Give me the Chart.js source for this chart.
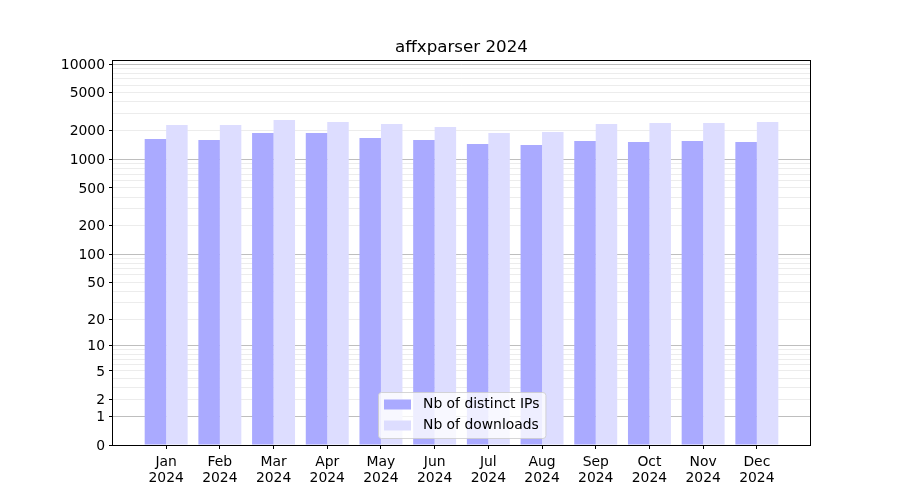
<!DOCTYPE html>
<html>
<head>
<meta charset="utf-8">
<script src="https://cdn.jsdelivr.net/npm/chart.js@4"></script>
<style>
html,body{margin:0;padding:0;background:#fff;}
#wrap{width:900px;height:500px;position:relative;}
</style>
</head>
<body>
<div id="wrap"><canvas id="c" width="900" height="500"></canvas></div>
<script>
const titleText = 'affxparser 2024';
const months = ['Jan','Feb','Mar','Apr','May','Jun','Jul','Aug','Sep','Oct','Nov','Dec'];
const yearLabel = '2024';
const distinctIPs = [1635, 1596, 1891, 1891, 1675, 1596, 1449, 1415, 1558, 1521, 1558, 1521];
const downloads   = [2294, 2294, 2589, 2467, 2350, 2186, 1891, 1937, 2350, 2407, 2407, 2467];
const seriesNames = ['Nb of distinct IPs', 'Nb of downloads'];
const seriesColors = ['#aaaaff', '#ddddff'];
const yTickLabels = [0, 1, 2, 5, 10, 20, 50, 100, 200, 500, 1000, 2000, 5000, 10000];
const yMajorGrid = [1, 10, 100, 1000, 10000];
const yMinorMultipliers = [2, 3, 4, 5, 6, 7, 8, 9];
const yMinorDecades = [1, 10, 100, 1000];

const tf = v => Math.log10(1 + v);

const tickSet = new Map();
yMinorDecades.forEach(d => yMinorMultipliers.forEach(m => tickSet.set(m * d, {v: m * d, label: '', kind: 'minor'})));
yMajorGrid.forEach(v => tickSet.set(v, {v, label: '', kind: 'major'}));
yTickLabels.forEach(v => {
  const t = tickSet.get(v) || {v, kind: v === 0 ? 'zero' : 'minor'};
  t.label = String(v);
  tickSet.set(v, t);
});
const tickInfo = Array.from(tickSet.values()).sort((a, b) => a.v - b.v);

const FONT = 'DejaVu Sans';

const framePlugin = {
  id: 'frameAndLegend',
  afterDraw(chart) {
    const {ctx, chartArea: a} = chart;
    ctx.save();
    ctx.fillStyle = '#000';
    ctx.font = '16.7px "' + FONT + '"';
    ctx.textAlign = 'center';
    ctx.textBaseline = 'alphabetic';
    ctx.fillText(titleText, (a.left + a.right) / 2, a.top - 8.5);
    ctx.strokeStyle = '#000';
    ctx.lineWidth = 1;
    ctx.strokeRect(Math.round(a.left) - 0.5, Math.round(a.top) + 0.5, Math.round(a.right - a.left) + 1, Math.round(a.bottom - a.top));
    ctx.font = '13.9px "' + FONT + '"';
    const tw = Math.max(...seriesNames.map(s => ctx.measureText(s).width));
    const w = 6 + 27 + 12 + tw + 6;
    const h = 46;
    const cx = (a.left + a.right) / 2;
    const x0 = Math.round(cx - w / 2) + 0.5;
    const y0 = Math.round(a.bottom - 7 - h) + 0.5;
    ctx.beginPath();
    ctx.roundRect(x0, y0, w, h, 3);
    ctx.fillStyle = 'rgba(255,255,255,0.8)';
    ctx.fill();
    ctx.strokeStyle = 'rgba(204,204,204,0.8)';
    ctx.stroke();
    seriesNames.forEach((name, i) => {
      const ry = y0 + 12 + i * 21;
      ctx.fillStyle = seriesColors[i];
      ctx.fillRect(x0 + 5.5, ry - 5, 27, 10);
      ctx.fillStyle = '#000';
      ctx.textBaseline = 'middle';
      ctx.textAlign = 'left';
      ctx.fillText(name, x0 + 44.5, ry);
    });
    ctx.restore();
  }
};

new Chart(document.getElementById('c'), {
  type: 'bar',
  data: {
    datasets: [
      {label: seriesNames[0], data: distinctIPs.map((v, i) => ({x: i, y: tf(v)})), backgroundColor: seriesColors[0], borderWidth: 0, categoryPercentage: 0.8, barPercentage: 1.0},
      {label: seriesNames[1], data: downloads.map((v, i) => ({x: i, y: tf(v)})), backgroundColor: seriesColors[1], borderWidth: 0, categoryPercentage: 0.8, barPercentage: 1.0}
    ]
  },
  options: {
    responsive: false,
    animation: false,
    devicePixelRatio: 1,
    layout: {padding: {left: 0, right: 90, top: 60, bottom: 0}},
    plugins: {
      legend: {display: false},
      tooltip: {enabled: false},
      title: {display: false}
    },
    scales: {
      x: {
        type: 'linear',
        min: -0.99,
        max: 11.99,
        offset: false,
        border: {display: false},
        grid: {display: true, offset: false, drawOnChartArea: false, drawTicks: true, tickLength: 4, tickColor: '#000', color: '#000'},
        afterBuildTicks: s => { s.ticks = months.map((m, i) => ({value: i})); },
        afterFit: s => { s.height = 55; },
        ticks: {
          autoSkip: false, maxRotation: 0, minRotation: 0, padding: 5,
          color: '#000', font: {family: FONT, size: 13.9, lineHeight: 1.15},
          callback: (v, i) => [months[i], yearLabel]
        }
      },
      y: {
        type: 'linear',
        min: 0,
        max: 4.043,
        z: 1,
        border: {display: false},
        grid: {
          drawTicks: true, tickLength: 4,
          color: c => { const t = tickInfo[c.index]; if (!t) return 'rgba(0,0,0,0)'; return t.kind === 'major' ? 'rgba(110,110,110,0.45)' : (t.kind === 'zero' ? 'rgba(0,0,0,0)' : 'rgba(0,0,0,0.075)'); },
          tickColor: c => { const t = tickInfo[c.index]; return t && t.label !== '' ? '#000' : 'rgba(0,0,0,0)'; }
        },
        afterBuildTicks: s => { s.ticks = tickInfo.map(t => ({value: tf(t.v)})); },
        afterFit: s => { s.width = 113; },
        ticks: {
          autoSkip: false, padding: 4, color: '#000', labelOffset: 1,
          font: {family: FONT, size: 13.9},
          callback: (v, i) => tickInfo[i] ? tickInfo[i].label : ''
        }
      }
    }
  },
  plugins: [framePlugin]
});
</script>
</body>
</html>
